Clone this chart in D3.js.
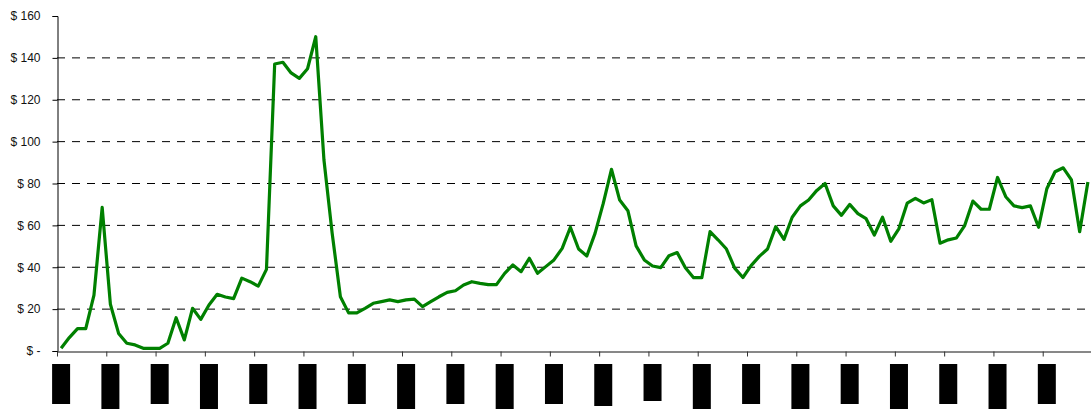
<!DOCTYPE html>
<html>
<head>
<meta charset="utf-8">
<script src="https://cdn.jsdelivr.net/npm/d3@7"></script>
<style>
  body { margin: 0; background: #fff; }
  svg { display: block; font-family: "Liberation Sans", Arial, sans-serif; }
</style>
</head>
<body>
<div id="chart"></div>
<script>
// bi-monthly price series, 21 years x 6 points
var price = [
  1.3, 6.4, 10.7, 10.7, 26.7, 68.6,
  22.3, 8.4, 3.7, 2.9, 1.3, 1.3,
  1.3, 3.7, 15.9, 5.3, 20.4, 15.1,
  22, 27.1, 25.8, 25, 34.8, 33.1,
  31, 39, 137.1, 137.9, 132.8, 130.2,
  134.8, 150.1, 91.2, 56.2, 25.9, 18.2,
  18.2, 20.4, 22.8, 23.6, 24.4, 23.6,
  24.4, 24.8, 21.2, 23.6, 25.9, 28,
  28.8, 31.5, 33.1, 32.3, 31.7, 31.7,
  37.1, 41.1, 37.9, 44.3, 37.1, 40.3,
  43.5, 49, 59.1, 48.7, 45.4, 56.2,
  70.5, 86.8, 72.1, 67, 50.2, 43.5,
  40.6, 39.8, 45.5, 47, 39.8, 35,
  35, 57, 53, 48.7, 39.6, 35.1,
  40.8, 45.2, 48.7, 59.4, 53.3, 63.9,
  69.3, 72.1, 76.7, 80, 69.3, 64.8,
  70, 65.6, 63.2, 55.4, 63.9, 52.4,
  58.5, 70.6, 72.9, 70.7, 72.3, 51.5,
  53.1, 54, 59.9, 71.6, 67.7, 67.7,
  82.9, 73.7, 69.3, 68.5, 69.3, 59.1,
  77.5, 85.6, 87.5, 81.7, 57, 80.7
];
var pointsPerYear = 6;
var yTicks = [0, 20, 40, 60, 80, 100, 120, 140, 160];
var gridValues = [20, 40, 60, 80, 100, 120, 140];

// category labels are blacked out in the source, only their boxes are drawn
var redactedLen = [40, 46, 40, 46, 40, 46, 40, 46, 40, 46, 40, 42, 37, 46, 40, 46, 40, 46, 40, 46, 40];

(function () {
    var width = 1091, height = 409;
    var plotLeft = 57, plotRight = 1092, plotTop = 16, plotBottom = 351;

    var svg = d3.select("#chart").append("svg")
        .attr("width", width)
        .attr("height", height);

    var x = d3.scaleBand()
        .domain(d3.range(price.length))
        .range([plotLeft, plotRight])
        .padding(0);
    var nYears = price.length / pointsPerYear;
    var xYear = d3.scaleLinear().domain([0, nYears]).range([plotLeft, plotRight]);
    var y = d3.scaleLinear().domain([0, 160]).range([plotBottom, plotTop]);

    // dashed grid
    svg.append("g").selectAll("line")
        .data(gridValues)
        .enter().append("line")
        .attr("x1", plotLeft).attr("x2", plotRight)
        .attr("y1", function (d) { return y(d); })
        .attr("y2", function (d) { return y(d); })
        .attr("stroke", "#000")
        .attr("stroke-width", 1)
        .attr("stroke-dasharray", "8,7");

    // y axis
    var yAxis = d3.axisLeft(y)
        .tickValues(yTicks)
        .tickSize(5)
        .tickPadding(12)
        .tickFormat(function (d) { return d === 0 ? "$ -" : "$ " + d; });
    var gy = svg.append("g")
        .attr("transform", "translate(" + (plotLeft + 0.5) + ",0)")
        .call(yAxis);
    gy.select(".domain").attr("stroke", "#000");
    gy.selectAll(".tick line").attr("stroke", "#000");
    gy.selectAll("text")
        .attr("font-size", "12px")
        .attr("font-family", "Liberation Sans, Arial, sans-serif")
        .attr("fill", "#111");

    // x axis, ticks between years
    var xAxis = d3.axisBottom(xYear)
        .tickValues(d3.range(0, nYears + 1))
        .tickSize(5)
        .tickSizeOuter(0)
        .tickFormat("");
    var gx = svg.append("g")
        .attr("transform", "translate(0," + (plotBottom + 0.5) + ")")
        .call(xAxis);
    gx.select(".domain").attr("stroke", "#111");
    gx.selectAll(".tick line").attr("stroke", "#333");

    // redacted category labels, centred on the first point of each year
    svg.append("g").selectAll("rect")
        .data(redactedLen)
        .enter().append("rect")
        .attr("x", function (d, i) { return x(i * pointsPerYear) + x.bandwidth() / 2 - 9; })
        .attr("y", 364)
        .attr("width", 18)
        .attr("height", function (d) { return d; })
        .attr("fill", "#000");

    // the series
    var line = d3.line()
        .x(function (d, i) { return x(i) + x.bandwidth() / 2; })
        .y(function (d) { return y(d); });

    svg.append("path")
        .datum(price)
        .attr("d", line)
        .attr("fill", "none")
        .attr("stroke", "#008000")
        .attr("stroke-width", 3.2)
        .attr("stroke-linejoin", "round");
})();
</script>
</body>
</html>
